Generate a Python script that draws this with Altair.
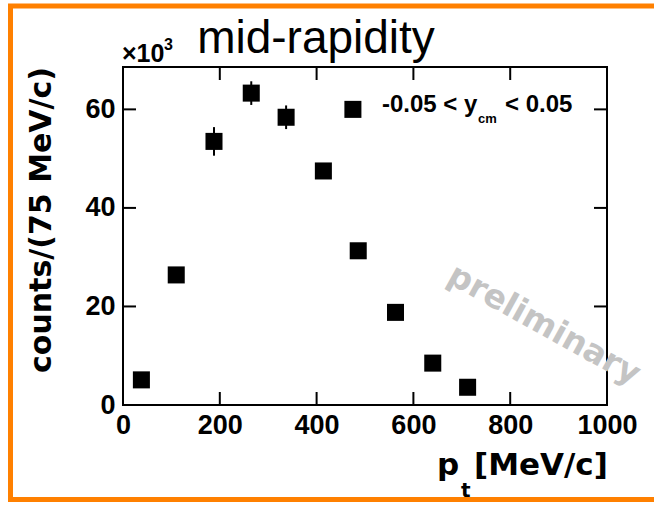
import altair as alt
import pandas as pd

# transverse momentum bin positions [MeV/c]
pt = [38, 110, 188, 265, 337, 414, 475, 486, 563, 640, 712]
# yield per 75 MeV/c bin, in units of 10^3
counts = [5.1, 26.4, 53.5, 63.3, 58.4, 47.5, 60.0, 31.3, 18.8, 8.5, 3.6]
# statistical uncertainty, in units of 10^3
err = [0.6, 1.2, 2.9, 2.4, 2.4, 1.2, 1.0, 1.0, 0.8, 0.6, 0.4]

x_ticks = [0, 200, 400, 600, 800, 1000]
y_ticks = [0, 20, 40, 60]

W, H = 484, 338
ORANGE = "#ff8000"
SANS = "Liberation Sans"
WIDE = "DejaVu Sans"

points = pd.DataFrame({"pt": pt, "counts": counts, "err": err})
xt = pd.DataFrame({"v": x_ticks})
yt = pd.DataFrame({"v": y_ticks})
one = pd.DataFrame({"k": [0]})

x_scale = alt.Scale(domain=[0, 1000], nice=False, zero=False)
y_scale = alt.Scale(domain=[0, 68.6], nice=False, zero=False)

AX = alt.Axis(values=x_ticks, format="d", title=None, domain=False, ticks=False,
              tickSize=0, grid=False, labelFont=SANS, labelFontSize=27,
              labelFontWeight="bold", labelColor="black", labelPadding=7,
              labelFlush=False)
AY = alt.Axis(values=y_ticks, format="d", title=None, domain=False, ticks=False,
              tickSize=0, grid=False, labelFont=SANS, labelFontSize=27,
              labelFontWeight="bold", labelColor="black", labelPadding=8,
              labelFlush=False)


def text(s, x, y, size, font=SANS, weight="normal", angle=0, align="left",
         baseline="alphabetic", color="black"):
    return alt.Chart(one).mark_text(
        text=s, font=font, fontSize=size, fontWeight=weight, angle=angle,
        align=align, baseline=baseline, color=color
    ).encode(x=alt.value(x), y=alt.value(y))


def rule(x, y, x2=None, y2=None, color="black", width=2):
    enc = {"x": alt.value(x), "y": alt.value(y)}
    if x2 is not None:
        enc["x2"] = alt.value(x2)
    if y2 is not None:
        enc["y2"] = alt.value(y2)
    return alt.Chart(one).mark_rule(color=color, strokeWidth=width).encode(**enc)


# orange slide frame
border = [
    rule(-115, -61, x2=531, color=ORANGE, width=5),
    rule(-112.5, -63, y2=435, color=ORANGE, width=5),
    rule(-115, 432.5, x2=531, color=ORANGE, width=5),
]

# inward-pointing major ticks on all four sides
tick_len = 13
ticks = [
    alt.Chart(xt).mark_rule(color="black", strokeWidth=2).encode(
        x=alt.X("v:Q", scale=x_scale, axis=AX), y=alt.value(H), y2=alt.value(H - tick_len)),
    alt.Chart(xt).mark_rule(color="black", strokeWidth=2).encode(
        x=alt.X("v:Q", scale=x_scale, axis=AX), y=alt.value(0), y2=alt.value(tick_len)),
    alt.Chart(yt).mark_rule(color="black", strokeWidth=2).encode(
        y=alt.Y("v:Q", scale=y_scale, axis=AY), x=alt.value(0), x2=alt.value(tick_len)),
    alt.Chart(yt).mark_rule(color="black", strokeWidth=2).encode(
        y=alt.Y("v:Q", scale=y_scale, axis=AY), x=alt.value(W), x2=alt.value(W - tick_len)),
]

errbars = alt.Chart(points).transform_calculate(
    lo="datum.counts - datum.err", hi="datum.counts + datum.err"
).mark_rule(color="black", strokeWidth=2).encode(
    x=alt.X("pt:Q", scale=x_scale, axis=AX),
    y=alt.Y("lo:Q", scale=y_scale, axis=AY),
    y2="hi:Q",
)

markers = alt.Chart(points).mark_square(size=290, color="black", opacity=1).encode(
    x=alt.X("pt:Q", scale=x_scale, axis=AX),
    y=alt.Y("counts:Q", scale=y_scale, axis=AY),
)

labels = [
    text("preliminary", 421, 258, 33, font=WIDE, weight="bold", angle=29,
         align="center", baseline="middle", color="#c4c4c4"),
    text("mid-rapidity", 193, -14, 46, align="center"),
    text("\u00d710", -1, -5, 25, weight="bold"),
    text("3", 41, -17, 16, weight="bold"),
    text("counts/(75 MeV/c)", -81, 153, 30, font=WIDE, weight="bold", angle=270,
         align="center", baseline="middle"),
    text("p", 314, 408, 31, font=WIDE, weight="bold"),
    text("t", 338, 430, 20, font=WIDE, weight="bold"),
    text("[MeV/c]", 351, 408, 31, font=WIDE, weight="bold"),
    text("-0.05 < y", 259, 45, 24, weight="bold"),
    text("cm", 355, 56, 13, weight="bold"),
    text("< 0.05", 382, 45, 24, weight="bold"),
]

chart = alt.layer(
    *border, labels[0], errbars, markers, *ticks, *labels[1:]
).properties(
    width=W,
    height=H,
    padding={"left": 123, "top": 67, "right": 47, "bottom": 100},
    autosize=alt.AutoSizeParams(type="none"),
    background="white",
).configure_view(stroke="black", strokeWidth=2)

chart.save("out.html", embed_options={"renderer": "svg", "actions": False})
